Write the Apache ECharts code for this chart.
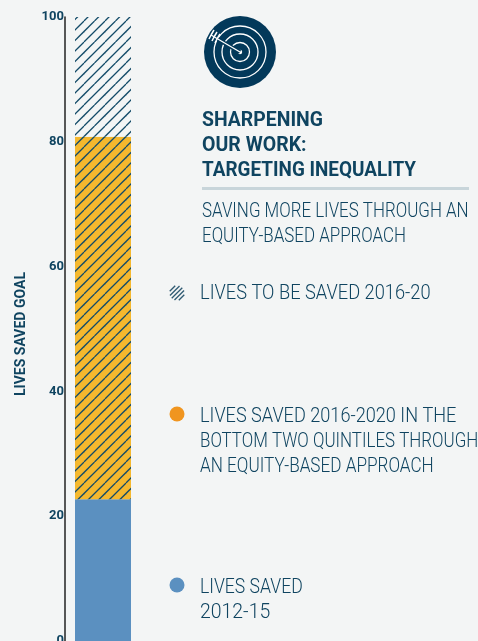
<!DOCTYPE html>
<html>
<head>
<meta charset="utf-8">
<title>Lives saved goal</title>
<style>
html, body { margin: 0; padding: 0; background: #f3f5f5; }
#echart { width: 478px; height: 641px; }
</style>
<script src="https://cdn.jsdelivr.net/npm/echarts@6/dist/echarts.min.js"></script>
</head>
<body>
<div id="echart"></div>
<script>
var categories = ['Lives saved'];
var savedValues = [22.7];
var equityValues = [58.1];
var toBeSavedValues = [19.2];
var tickMax = 100;
var tickStep = 20;
var axisTitle = 'LIVES SAVED GOAL';
var titleLines = ['SHARPENING', 'OUR WORK:', 'TARGETING INEQUALITY'];
var subtitleLines = ['SAVING MORE LIVES THROUGH AN', 'EQUITY-BASED APPROACH'];
var legendToBeSaved = ['LIVES TO BE SAVED 2016-20'];
var legendEquity = ['LIVES SAVED 2016-2020 IN THE', 'BOTTOM TWO QUINTILES THROUGH', 'AN EQUITY-BASED APPROACH'];
var legendSaved = ['LIVES SAVED', '2012-15'];

var navy = '#0f4460';
var bg = '#f3f5f5';
var blue = '#5b90c0';
var yellow = '#f5b82e';
var orange = '#f0951f';
var lightFont = 'Roboto';

// 斜线填充,两条线一个单元
function hatchPattern(fill) {
    var size = 21;
    var tile = document.createElement('canvas');
    tile.width = size;
    tile.height = size;
    var ctx = tile.getContext('2d');
    ctx.fillStyle = fill;
    ctx.fillRect(0, 0, size, size);
    ctx.strokeStyle = '#134b68';
    ctx.lineWidth = 1.25;
    [-21, -10.5, 0, 10.5, 21].forEach(function (o) {
        ctx.beginPath();
        ctx.moveTo(o, size);
        ctx.lineTo(o + size, 0);
        ctx.stroke();
    });
    return { image: tile, repeat: 'repeat' };
}

// scales: 每行的水平缩放,字体比原图宽度略有差别
function textLines(lines, x, y, step, opt) {
    return lines.map(function (line, i) {
        return {
            type: 'text',
            x: x,
            y: y + i * step,
            scaleX: opt.scales[i],
            style: {
                text: line,
                fill: navy,
                font: opt.weight + ' ' + opt.size + 'px ' + lightFont,
                textVerticalAlign: 'middle'
            }
        };
    });
}

var graphics = [];
// 靶子图标
graphics.push({ type: 'circle', shape: { cx: 240, cy: 52, r: 36 }, style: { fill: '#03395a' } });
[26, 18, 9.5].forEach(function (r) {
    graphics.push({ type: 'circle', shape: { cx: 240, cy: 52, r: r }, style: { fill: 'none', stroke: '#fff', lineWidth: 1.3 } });
});
graphics.push({ type: 'circle', shape: { cx: 240, cy: 52, r: 2.2 }, style: { fill: '#fff' } });
graphics.push({ type: 'line', shape: { x1: 240, y1: 52, x2: 214, y2: 37 }, style: { stroke: '#03395a', lineWidth: 4 } });
graphics.push({ type: 'line', shape: { x1: 240, y1: 52, x2: 211, y2: 35 }, style: { stroke: '#fff', lineWidth: 1.3 } });
[[211, 35, 214, 30], [214, 37, 217, 32], [217, 39, 220, 34], [211, 35, 209, 39], [214, 37, 212, 41], [217, 39, 215, 43]].forEach(function (s) {
    graphics.push({ type: 'line', shape: { x1: s[0], y1: s[1], x2: s[2], y2: s[3] }, style: { stroke: '#fff', lineWidth: 1.5 } });
});

graphics = graphics.concat(textLines(titleLines, 202, 121, 25, { weight: 'bold', size: 19.5, scales: [0.995, 1, 0.97] }));
graphics.push({ type: 'rect', shape: { x: 202, y: 187, width: 267, height: 3 }, style: { fill: '#c8d5da' } });
graphics = graphics.concat(textLines(subtitleLines, 202, 212, 25, { weight: 300, size: 19.5, scales: [0.868, 0.868] }));
graphics = graphics.concat(textLines(legendToBeSaved, 200, 294, 25, { weight: 300, size: 19.5, scales: [0.937] }));
graphics = graphics.concat(textLines(legendEquity, 200, 417, 25, { weight: 300, size: 19.5, scales: [0.93, 0.868, 0.879] }));
graphics = graphics.concat(textLines(legendSaved, 200, 588, 25, { weight: 300, size: 19.5, scales: [0.903, 0.996] }));

// 图例标记
graphics.push({ type: 'circle', shape: { cx: 177, cy: 414, r: 7.5 }, style: { fill: orange } });
graphics.push({ type: 'circle', shape: { cx: 177, cy: 585, r: 7.5 }, style: { fill: blue } });
for (var k = -2; k <= 2; k++) {
    var off = k * 3.2;
    var half = Math.sqrt(Math.max(0, 56 - off * off));
    graphics.push({
        type: 'line',
        shape: {
            x1: 177 + off * 0.707 - half * 0.707,
            y1: 293 + off * 0.707 + half * 0.707,
            x2: 177 + off * 0.707 + half * 0.707,
            y2: 293 + off * 0.707 - half * 0.707
        },
        style: { stroke: '#2f5a72', lineWidth: 1.3 }
    });
}

var myChart = echarts.init(document.getElementById('echart'), null, { renderer: 'canvas' });
var option = {
    animation: false,
    backgroundColor: bg,
    grid: { left: 65, top: 17, width: 76, bottom: 0, containLabel: false, outerBoundsMode: 'none' },
    xAxis: [{
        type: 'category',
        data: categories,
        axisLine: { show: false },
        axisTick: { show: false },
        axisLabel: { show: false }
    }],
    yAxis: [{
        type: 'value',
        min: 0,
        max: tickMax,
        interval: tickStep,
        name: axisTitle,
        nameLocation: 'middle',
        nameRotate: 90,
        nameGap: 37,
        nameTextStyle: { color: navy, fontFamily: 'Roboto', fontWeight: 'bold', fontSize: 14, padding: [0, 10, 0, 0] },
        axisLine: { show: true, onZero: false, lineStyle: { color: '#222', width: 1.5 } },
        axisTick: { show: false },
        splitLine: { show: false },
        axisLabel: { color: navy, fontFamily: 'Roboto', fontWeight: 'bold', fontSize: 13, margin: 1 }
    }],
    series: [
        { name: 'Lives saved 2012-15', type: 'bar', stack: 'goal', barWidth: 56, data: savedValues, itemStyle: { color: blue } },
        { name: 'Lives saved 2016-2020', type: 'bar', stack: 'goal', barWidth: 56, data: equityValues, itemStyle: { color: hatchPattern(yellow) } },
        { name: 'Lives to be saved 2016-20', type: 'bar', stack: 'goal', barWidth: 56, data: toBeSavedValues, itemStyle: { color: hatchPattern(bg) } }
    ],
    graphic: graphics
};
myChart.setOption(option);
</script>
</body>
</html>
